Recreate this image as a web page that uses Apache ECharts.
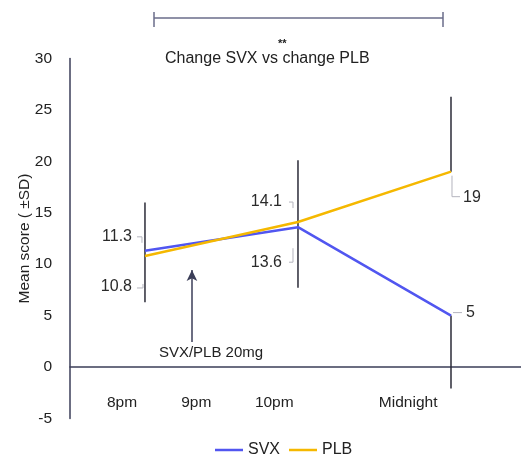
<!DOCTYPE html>
<html><head><meta charset="utf-8">
<script src="https://cdn.jsdelivr.net/npm/echarts@6/dist/echarts.min.js"></script>
<style>html,body{margin:0;padding:0;background:#fff}#c{width:521px;height:454px}</style>
</head><body><div id="c"></div>
<script>
// ---- data ----
var hours = [8, 10, 12];                 // 8pm, 10pm, Midnight (hour of evening)
var svxValues = [11.3, 13.6, 5];
var plbValues = [10.8, 14.1, 19];
// error bars: [hour, low, high]
var errorBars = [[8, 6.3, 16.0], [10, 7.7, 20.1], [12, 19, 26.3], [12, -2.1, 5]];
var tickLabels = ['8pm', '9pm', '10pm', 'Midnight'];
var tickLabelPos = [7.70, 8.67, 9.69, 11.44];
var doseHour = 8.614, doseFrom = 2.43, doseTo = 9.44;

// ---- layout of value labels (pixel offsets, text anchor, leader) ----
var labelLayout = {
  SVX: [
    {dx: -13, dy: -14, align: 'right', leader: [[-8, -14], [-3, -14], [-3, -8]]},
    {dx: -16, dy: 35, align: 'right', leader: [[-9, 35], [-5, 35], [-5, 21]]},
    {dx: 15, dy: -3, align: 'left', leader: [[2, -3], [11, -3]]}
  ],
  PLB: [
    {dx: -13, dy: 31, align: 'right', leader: [[-8, 32], [-2, 32], [-2, 28]]},
    {dx: -16, dy: -20, align: 'right', leader: [[-9, -20], [-5, -20], [-5, -14]]},
    {dx: 12, dy: 26, align: 'left', leader: [[1, 4], [1, 25], [9, 25]]}
  ]
};

function pairs(vals) { return hours.map(function (h, i) { return [h, vals[i]]; }); }
var labelData = [];
hours.forEach(function (h, i) {
  labelData.push([h, svxValues[i], 0, i]);
  labelData.push([h, plbValues[i], 1, i]);
});
var labelMap = {}; tickLabelPos.forEach(function (p, i) { labelMap[p] = tickLabels[i]; });

var chart = echarts.init(document.getElementById('c'), null, {renderer: 'canvas'});
var font = '"Liberation Sans", Arial, Helvetica, sans-serif';
var axisColor = '#3b3e58';

chart.setOption({
  animation: false,
  textStyle: {fontFamily: font},
  grid: {left: 70, right: 0, top: 58.6, bottom: 35.6, containLabel: false, outerBoundsMode: 'none'},
  xAxis: {
    type: 'value', min: 7.02, max: 12.915,
    axisLine: {onZero: true, lineStyle: {color: axisColor, width: 1.5}},
    axisTick: {show: false},
    splitLine: {show: false},
    axisLabel: {
      customValues: tickLabelPos, margin: -24, fontSize: 15.5, color: '#222', fontFamily: font,
      formatter: function (v) { return labelMap[v] || ''; }
    }
  },
  yAxis: {
    type: 'value', min: -5, max: 30, interval: 5,
    name: 'Mean score ( \u00b1SD)', nameLocation: 'middle', nameGap: 37, nameMoveOverlap: false,
    nameTextStyle: {fontSize: 15.5, color: '#222', fontFamily: font},
    axisLine: {show: true, onZero: false, lineStyle: {color: axisColor, width: 1.5}},
    axisTick: {show: false},
    splitLine: {show: false},
    axisLabel: {margin: 18, fontSize: 15.5, color: '#222', fontFamily: font}
  },
  legend: {
    left: 210, top: 437, itemWidth: 28, itemHeight: 2.5, itemGap: 9, icon: 'rect',
    textStyle: {fontSize: 16, color: '#222', fontFamily: font},
    data: ['SVX', 'PLB']
  },
  title: [
    {text: '**', left: 273, top: 33, textStyle: {fontSize: 11, fontWeight: 'bold', color: '#222', fontFamily: font}},
    {text: 'Change SVX vs change PLB', left: 160, top: 46, textStyle: {fontSize: 16, fontWeight: 'normal', color: '#222', fontFamily: font}}
  ],
  graphic: [
    {type: 'line', shape: {x1: 154, y1: 18, x2: 443, y2: 18}, style: {stroke: '#6a6c8a', lineWidth: 1.5}},
    {type: 'line', shape: {x1: 154, y1: 12, x2: 154, y2: 27}, style: {stroke: '#6a6c8a', lineWidth: 1.5}},
    {type: 'line', shape: {x1: 443, y1: 12, x2: 443, y2: 27}, style: {stroke: '#6a6c8a', lineWidth: 1.5}},
    {type: 'text', x: 211, y: 353, style: {text: 'SVX/PLB 20mg', fontSize: 15, fill: '#222', fontFamily: font, align: 'center', verticalAlign: 'middle'}}
  ],
  series: [
    {
      type: 'custom', name: 'err', z: 1, silent: true,
      encode: {x: 0, y: [1, 2]},
      data: errorBars,
      renderItem: function (params, api) {
        var a = api.coord([api.value(0), api.value(1)]);
        var b = api.coord([api.value(0), api.value(2)]);
        return {type: 'line', shape: {x1: a[0], y1: a[1], x2: b[0], y2: b[1]}, style: {stroke: '#2b2b38', lineWidth: 1.5}};
      }
    },
    {
      name: 'SVX', type: 'line', z: 3, symbol: 'none', data: pairs(svxValues),
      lineStyle: {color: '#5156f0', width: 2.5}, itemStyle: {color: '#5156f0'},
      markLine: {
        silent: true, symbol: ['none', 'arrow'], symbolSize: [8, 11],
        lineStyle: {color: axisColor, width: 1.5, type: 'solid'}, label: {show: false},
        data: [[{coord: [doseHour, doseFrom]}, {coord: [doseHour, doseTo]}]]
      }
    },
    {
      name: 'PLB', type: 'line', z: 3, symbol: 'none', data: pairs(plbValues),
      lineStyle: {color: '#f5b800', width: 2.5}, itemStyle: {color: '#f5b800'}
    },
    {
      type: 'custom', name: 'labels', z: 4, silent: true,
      encode: {x: 0, y: 1},
      data: labelData,
      renderItem: function (params, api) {
        var s = api.value(2), i = api.value(3);
        var key = s === 0 ? 'SVX' : 'PLB';
        var vals = s === 0 ? svxValues : plbValues;
        var L = labelLayout[key][i];
        var p = api.coord([api.value(0), api.value(1)]);
        return {type: 'group', children: [
          {type: 'polyline', shape: {points: L.leader.map(function (q) { return [p[0] + q[0], p[1] + q[1]]; })},
           style: {stroke: '#b4b4be', lineWidth: 1, fill: null}},
          {type: 'text', x: p[0] + L.dx, y: p[1] + L.dy,
           style: {text: String(vals[i]), fontSize: 16, fill: '#2a2a2a', fontFamily: font, align: L.align, verticalAlign: 'middle'}}
        ]};
      }
    }
  ]
});
</script></body></html>
